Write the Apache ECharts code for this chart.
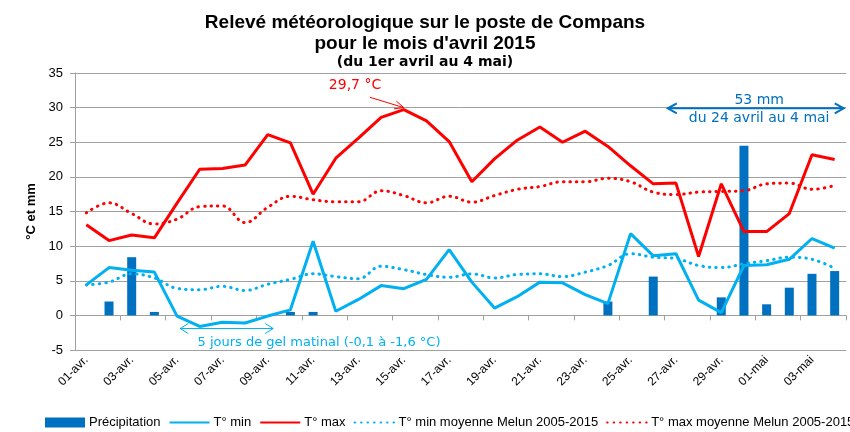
<!DOCTYPE html>
<html>
<head>
<meta charset="utf-8">
<script src="https://cdn.jsdelivr.net/npm/echarts@6/dist/echarts.min.js"></script>
<style>
html,body{margin:0;padding:0;background:#fff;}
#c{width:850px;height:432px;}
</style>
</head>
<body>
<div id="c"></div>
<script>
const categories = ['01-avr.','02-avr.','03-avr.','04-avr.','05-avr.','06-avr.','07-avr.','08-avr.','09-avr.','10-avr.',
  '11-avr.','12-avr.','13-avr.','14-avr.','15-avr.','16-avr.','17-avr.','18-avr.','19-avr.','20-avr.',
  '21-avr.','22-avr.','23-avr.','24-avr.','25-avr.','26-avr.','27-avr.','28-avr.','29-avr.','30-avr.',
  '01-mai','02-mai','03-mai','04-mai'];
const precipitation = [0,2.0,8.4,0.5,0,0,0,0,0,0.5,0.5,0,0,0,0,0,0,0,0,0,0,0,0,2.0,0,5.6,0,0,2.6,24.5,1.6,4.0,6.0,6.4];
const tMin = [4.4,6.9,6.5,6.25,-0.1,-1.6,-1.0,-1.1,-0.1,0.8,10.7,0.6,2.3,4.3,3.85,5.2,9.5,4.8,1.05,2.7,4.8,4.7,3.0,1.7,11.8,8.6,8.9,2.2,0.4,7.2,7.3,8.1,11.1,9.7];
const tMax = [13.1,10.8,11.6,11.2,16.2,21.1,21.2,21.7,26.1,24.9,17.5,22.7,25.6,28.6,29.7,28.1,25.1,19.3,22.6,25.3,27.2,25.0,26.6,24.4,21.6,19.0,19.1,8.5,19.0,12.1,12.1,14.7,23.2,22.5];
const tMinAvg = [4.4,4.8,6.0,5.4,3.9,3.7,4.2,3.6,4.5,5.2,6.0,5.6,5.3,7.1,6.6,5.9,5.5,6.0,5.4,5.9,6.0,5.6,6.25,7.2,8.9,8.4,8.2,7.2,6.9,7.45,7.9,8.4,8.1,6.8];
const tMaxAvg = [14.8,16.25,14.7,13.2,13.9,15.7,15.8,13.4,15.6,17.2,16.7,16.4,16.4,18.0,17.3,16.25,17.2,16.35,17.3,18.2,18.6,19.3,19.3,19.8,19.3,17.8,17.45,17.8,17.9,18.0,19.0,19.1,18.2,18.75];
const yTicks = {min: -5, max: 35, interval: 5};
const seriesNames = ['Précipitation','T° min','T° max','T° min moyenne Melun 2005-2015','T° max moyenne Melun 2005-2015'];

const FONT = 'Liberation Sans, Arial, sans-serif';
const AFONT = 'DejaVu Sans, Verdana, sans-serif';
const BLUE = '#0070C0', CYAN = '#00B0F0', RED = '#FF0000';

const chart = echarts.init(document.getElementById('c'), null, {renderer: 'canvas'});
const option = {
  animation: false,
  backgroundColor: '#fff',
  textStyle: {fontFamily: FONT},
  title: {
    text: 'Relevé météorologique sur le poste de Compans\npour le mois d\'avril 2015',
    subtext: '(du 1er avril au 4 mai)',
    left: 'center', top: 7, itemGap: 0, padding: [5, 5, 5, 10],
    textStyle: {fontFamily: FONT, fontSize: 19, fontWeight: 'bold', color: '#000', lineHeight: 21},
    subtextStyle: {fontFamily: AFONT, fontSize: 14, fontWeight: 'bold', color: '#000', lineHeight: 16}
  },
  grid: {left: 75, right: 4, top: 73, bottom: 82, containLabel: false},
  legend: {
    left: 45, top: 416, width: 1200, padding: 0, itemGap: 8, itemWidth: 40, itemHeight: 10,
    textStyle: {fontFamily: FONT, fontSize: 13, color: '#000', padding: [0, 0, 0, -1]},
    data: [
      {name: seriesNames[0], icon: 'rect'},
      {name: seriesNames[1], itemStyle: {opacity: 0}},
      {name: seriesNames[2], itemStyle: {opacity: 0}},
      {name: seriesNames[3], itemStyle: {opacity: 0}},
      {name: seriesNames[4], itemStyle: {opacity: 0}}
    ]
  },
  xAxis: [{
    type: 'category', data: categories, boundaryGap: true,
    axisLine: {show: false, onZero: false},
    axisTick: {show: false},
    axisLabel: {interval: 1, rotate: 45, fontSize: 12, color: '#000', fontFamily: FONT, margin: 8}
  }, {
    type: 'category', data: categories, boundaryGap: true, position: 'bottom',
    axisLine: {show: true, onZero: true, onZeroAxisIndex: 0, lineStyle: {color: '#a0a0a0', width: 1}},
    axisTick: {show: true, interval: 1, length: 5, lineStyle: {color: '#a0a0a0'}},
    axisLabel: {show: false}
  }],
  yAxis: {
    type: 'value', min: yTicks.min, max: yTicks.max, interval: yTicks.interval,
    name: '°C et mm', nameLocation: 'middle', nameGap: 35, nameRotate: 90,
    nameTextStyle: {fontFamily: FONT, fontSize: 13, fontWeight: 'bold', color: '#000'},
    axisLine: {show: true, lineStyle: {color: '#a0a0a0'}},
    axisTick: {show: true, length: 5, lineStyle: {color: '#a0a0a0'}},
    axisLabel: {fontSize: 13, color: '#000', fontFamily: FONT, margin: 12},
    splitLine: {lineStyle: {color: '#a0a0a0', width: 1}}
  },
  series: [
    {name: seriesNames[0], type: 'bar', data: precipitation, barWidth: 9, itemStyle: {color: BLUE}},
    {name: seriesNames[1], type: 'line', data: tMin, symbol: 'none', lineStyle: {color: CYAN, width: 3}, itemStyle: {color: CYAN}},
    {name: seriesNames[2], type: 'line', data: tMax, symbol: 'none', lineStyle: {color: RED, width: 3}, itemStyle: {color: RED}},
    {name: seriesNames[3], type: 'line', data: tMinAvg, symbol: 'none', smooth: 0.4,
      lineStyle: {color: CYAN, width: 3, type: [0.5, 6], cap: 'round'}, itemStyle: {color: CYAN}},
    {name: seriesNames[4], type: 'line', data: tMaxAvg, symbol: 'none', smooth: 0.4,
      lineStyle: {color: RED, width: 3, type: [0.5, 6], cap: 'round'}, itemStyle: {color: RED}}
  ]
};
chart.setOption(option);

// annotations positioned from data coordinates
function px(i, v) {
  const a = chart.convertToPixel({gridIndex: 0}, [0, v]);
  const b = chart.convertToPixel({gridIndex: 0}, [1, v]);
  return [a[0] + i * (b[0] - a[0]), a[1]];
}
function chevron(tip, dir, len, half, color, w) {
  return {type: 'polyline', shape: {points: [[tip[0] - dir * len, tip[1] - half], tip, [tip[0] - dir * len, tip[1] + half]]},
    style: {stroke: color, lineWidth: w, fill: null}};
}
const g = [];
// 29,7 °C annotation
const tpos = px(11.85, 33.2);
g.push({type: 'text', x: tpos[0], y: tpos[1], style: {text: '29,7 °C', fill: RED, font: '14px ' + AFONT, align: 'center', verticalAlign: 'middle'}});
const a1 = px(12.5, 31.5), a2 = px(14, 30.0);
g.push({type: 'line', shape: {x1: a1[0], y1: a1[1], x2: a2[0], y2: a2[1]}, style: {stroke: RED, lineWidth: 1}});
(function(){
  const dx = a2[0]-a1[0], dy = a2[1]-a1[1], L = Math.hypot(dx, dy), ux = dx/L, uy = dy/L;
  const s = 9, h = 4;
  g.push({type: 'polyline', shape: {points: [[a2[0]-ux*s - uy*h, a2[1]-uy*s + ux*h], a2, [a2[0]-ux*s + uy*h, a2[1]-uy*s - ux*h]]}, style: {stroke: RED, lineWidth: 1, fill: null}});
})();
// 53 mm annotation
const b1 = px(25.64, 29.9), b2 = px(33.4, 29.9);
g.push({type: 'line', shape: {x1: b1[0], y1: b1[1], x2: b2[0], y2: b2[1]}, style: {stroke: BLUE, lineWidth: 2}});
g.push(chevron(b1, -1, 9, 5, BLUE, 2));
g.push(chevron(b2, 1, 9, 5, BLUE, 2));
const t1 = px(29.67, 31.1), t2 = px(29.67, 28.5);
g.push({type: 'text', x: t1[0], y: t1[1], style: {text: '53 mm', fill: BLUE, font: '14px ' + AFONT, align: 'center', verticalAlign: 'middle'}});
g.push({type: 'text', x: t2[0], y: t2[1], style: {text: 'du 24 avril au 4 mai', fill: BLUE, font: '14px ' + AFONT, align: 'center', verticalAlign: 'middle'}});
// gel annotation
const c1 = px(4.14, -1.9), c2 = px(8.24, -1.9);
g.push({type: 'line', shape: {x1: c1[0], y1: c1[1], x2: c2[0], y2: c2[1]}, style: {stroke: CYAN, lineWidth: 1}});
g.push(chevron(c1, -1, 8, 5, CYAN, 1));
g.push(chevron(c2, 1, 8, 5, CYAN, 1));
const ct = px(10.26, -3.9);
g.push({type: 'text', x: ct[0], y: ct[1], style: {text: '5 jours de gel matinal (-0,1 à -1,6 °C)', fill: CYAN, font: '13px ' + AFONT, align: 'center', verticalAlign: 'middle'}});
chart.setOption({graphic: g});
</script>
</body>
</html>
